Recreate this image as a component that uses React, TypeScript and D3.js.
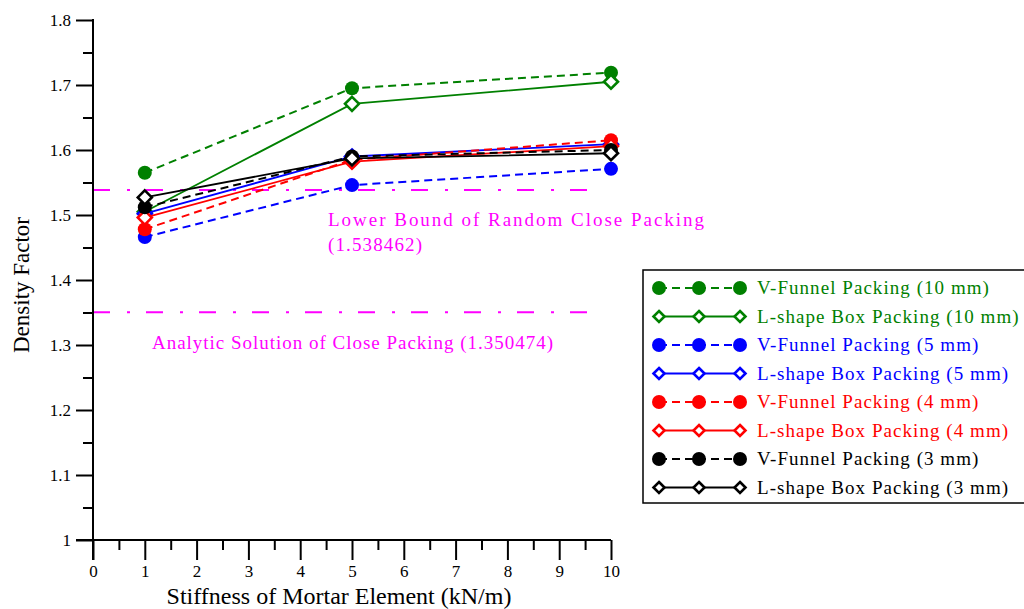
import { useEffect, useRef } from 'react';
import * as d3 from 'd3';

const WIDTH = 1024;
const HEIGHT = 609;
const MARGIN = { top: 20, right: 413, bottom: 69, left: 93 };
const FONT = '"Liberation Serif", "DejaVu Serif", serif';

// valores
const stiffness = [1, 5, 10];
const vFunnel10 = [1.565, 1.695, 1.719];
const lShape10 = [1.505, 1.671, 1.705];
const vFunnel5 = [1.466, 1.546, 1.571];
const lShape5 = [1.502, 1.59, 1.609];
const vFunnel4 = [1.478, 1.585, 1.615];
const lShape4 = [1.496, 1.582, 1.606];
const vFunnel3 = [1.512, 1.59, 1.6];
const lShape3 = [1.527, 1.587, 1.595];

const seriesNames = [
  'V-Funnel Packing (10 mm)',
  'L-shape Box Packing (10 mm)',
  'V-Funnel Packing (5 mm)',
  'L-shape Box Packing (5 mm)',
  'V-Funnel Packing (4 mm)',
  'L-shape Box Packing (4 mm)',
  'V-Funnel Packing (3 mm)',
  'L-shape Box Packing (3 mm)',
];
const seriesValues = [vFunnel10, lShape10, vFunnel5, lShape5, vFunnel4, lShape4, vFunnel3, lShape3];
const seriesColors = ['#008000', '#008000', '#0000ff', '#0000ff', '#ff0000', '#ff0000', '#000000', '#000000'];

const lowerBound = 1.538462;
const analytic = 1.350474;
const refLineEnd = 9.8;

const xTicks = [0, 1, 2, 3, 4, 5, 6, 7, 8, 9, 10];
const yTicks = [1, 1.1, 1.2, 1.3, 1.4, 1.5, 1.6, 1.7, 1.8];

const boundsWidth = WIDTH - MARGIN.left - MARGIN.right;
const boundsHeight = HEIGHT - MARGIN.top - MARGIN.bottom;

const xScale = d3.scaleLinear().domain([0, 10]).range([0, boundsWidth]);
const yScale = d3.scaleLinear().domain([1, 1.8]).range([boundsHeight, 0]);

const series = seriesNames.map((name, i) => ({
  name,
  color: seriesColors[i],
  dashed: i % 2 === 0,
  values: seriesValues[i].map((v, j) => ({ x: stiffness[j], y: v })),
}));

const DASH = '8,5';
const REF_DASH = '17,17,3,16';
const MAGENTA = '#ff00ff';

const Marker = ({ x, y, color, dashed, size = 6 }: { x: number; y: number; color: string; dashed: boolean; size?: number }) =>
  dashed ? (
    <circle cx={x} cy={y} r={7} fill={color} />
  ) : (
    <path
      d={`M0,${-size}L${size},0L0,${size}L${-size},0Z`}
      transform={`translate(${x},${y})`}
      fill="#fff"
      stroke={color}
      strokeWidth={2.6}
    />
  );

export default function App() {
  const axesRef = useRef<SVGGElement>(null);

  useEffect(() => {
    const g = d3.select(axesRef.current);
    g.selectAll('*').remove();

    // eixo X
    g.append('g')
      .attr('transform', `translate(0, ${boundsHeight})`)
      .call(d3.axisBottom(xScale).tickValues(xTicks).tickSize(20).tickSizeOuter(0).tickPadding(5));
    g.append('g')
      .attr('transform', `translate(0, ${boundsHeight})`)
      .call(d3.axisBottom(xScale).tickValues(d3.range(0.5, 10, 1)).tickSize(10).tickFormat(() => ''));

    // eixo Y
    g.append('g').call(
      d3.axisLeft(yScale).tickValues(yTicks).tickSize(17).tickSizeOuter(0).tickPadding(5).tickFormat(d3.format('~g'))
    );
    g.append('g').call(
      d3.axisLeft(yScale).tickValues(d3.range(1.05, 1.8, 0.1)).tickSize(10).tickFormat(() => '')
    );

    g.selectAll('.domain').remove();
    g.selectAll('.tick line').attr('stroke', '#000').attr('stroke-width', 2);
    g.selectAll('.tick text')
      .attr('fill', '#000')
      .attr('font-family', FONT)
      .attr('font-size', 17);

    // linhas dos eixos
    g.append('line')
      .attr('x1', -17)
      .attr('x2', boundsWidth)
      .attr('y1', boundsHeight)
      .attr('y2', boundsHeight)
      .attr('stroke', '#000')
      .attr('stroke-width', 2);
    g.append('line')
      .attr('x1', 0)
      .attr('x2', 0)
      .attr('y1', -1)
      .attr('y2', boundsHeight + 20)
      .attr('stroke', '#000')
      .attr('stroke-width', 2);
  }, []);

  const line = d3
    .line<{ x: number; y: number }>()
    .x((d) => xScale(d.x))
    .y((d) => yScale(d.y));

  const legendX = 643;
  const legendY = 270;
  const rowH = 28.5;

  return (
    <svg
      width={WIDTH}
      height={HEIGHT}
      fontFamily={FONT}
      style={{ position: 'absolute', left: 0, top: 0, background: '#fff' }}
    >
      <g transform={`translate(${MARGIN.left}, ${MARGIN.top})`}>
        {/* linhas de referência */}
        {[lowerBound, analytic].map((v) => (
          <line
            key={v}
            x1={xScale(0)}
            x2={xScale(refLineEnd)}
            y1={yScale(v)}
            y2={yScale(v)}
            stroke={MAGENTA}
            strokeWidth={2}
            strokeDasharray={REF_DASH}
          />
        ))}
        <text x={235} y={yScale(lowerBound) + 36} fill={MAGENTA} fontFamily={FONT} fontSize={19} textLength={376} lengthAdjust="spacing">
          Lower Bound of Random Close Packing
        </text>
        <text x={235} y={yScale(lowerBound) + 61} fill={MAGENTA} fontFamily={FONT} fontSize={19} textLength={94} lengthAdjust="spacing">
          (1.538462)
        </text>
        <text x={59} y={yScale(analytic) + 37} fill={MAGENTA} fontFamily={FONT} fontSize={19} textLength={401} lengthAdjust="spacing">
          Analytic Solution of Close Packing (1.350474)
        </text>

        {/* séries */}
        {series.map((s) => (
          <g key={s.name}>
            <path
              d={line(s.values) ?? ''}
              fill="none"
              stroke={s.color}
              strokeWidth={s.dashed ? 2 : 1.8}
              strokeDasharray={s.dashed ? DASH : undefined}
            />
            {s.values.map((d) => (
              <Marker key={d.x} x={xScale(d.x)} y={yScale(d.y)} color={s.color} dashed={s.dashed} size={7} />
            ))}
          </g>
        ))}

        <g ref={axesRef} />

        <text
          x={boundsWidth / 2 - 13}
          y={boundsHeight + 64}
          textAnchor="middle"
          fontFamily={FONT}
          fontSize={24}
          fill="#000"
        >
          Stiffness of Mortar Element (kN/m)
        </text>
        <text
          transform={`translate(${-64}, ${boundsHeight / 2 + 5}) rotate(-90)`}
          textAnchor="middle"
          fontFamily={FONT}
          fontSize={23}
          fill="#000"
        >
          Density Factor
        </text>
      </g>

      {/* legenda */}
      <rect x={legendX} y={legendY} width={400} height={233} fill="#fff" stroke="#000" strokeWidth={1.5} />
      {series.map((s, i) => {
        const cy = legendY + 18 + i * rowH;
        const xs = [legendX + 16, legendX + 56, legendX + 97];
        return (
          <g key={s.name}>
            <line
              x1={xs[0]}
              x2={xs[2]}
              y1={cy}
              y2={cy}
              stroke={s.color}
              strokeWidth={2}
              strokeDasharray={s.dashed ? DASH : undefined}
            />
            {xs.map((x) => (
              <Marker key={x} x={x} y={cy} color={s.color} dashed={s.dashed} size={5.5} />
            ))}
            <text x={legendX + 114} y={cy + 6} fill={s.color} fontFamily={FONT} fontSize={19} letterSpacing={1.05}>
              {s.name}
            </text>
          </g>
        );
      })}
    </svg>
  );
}
